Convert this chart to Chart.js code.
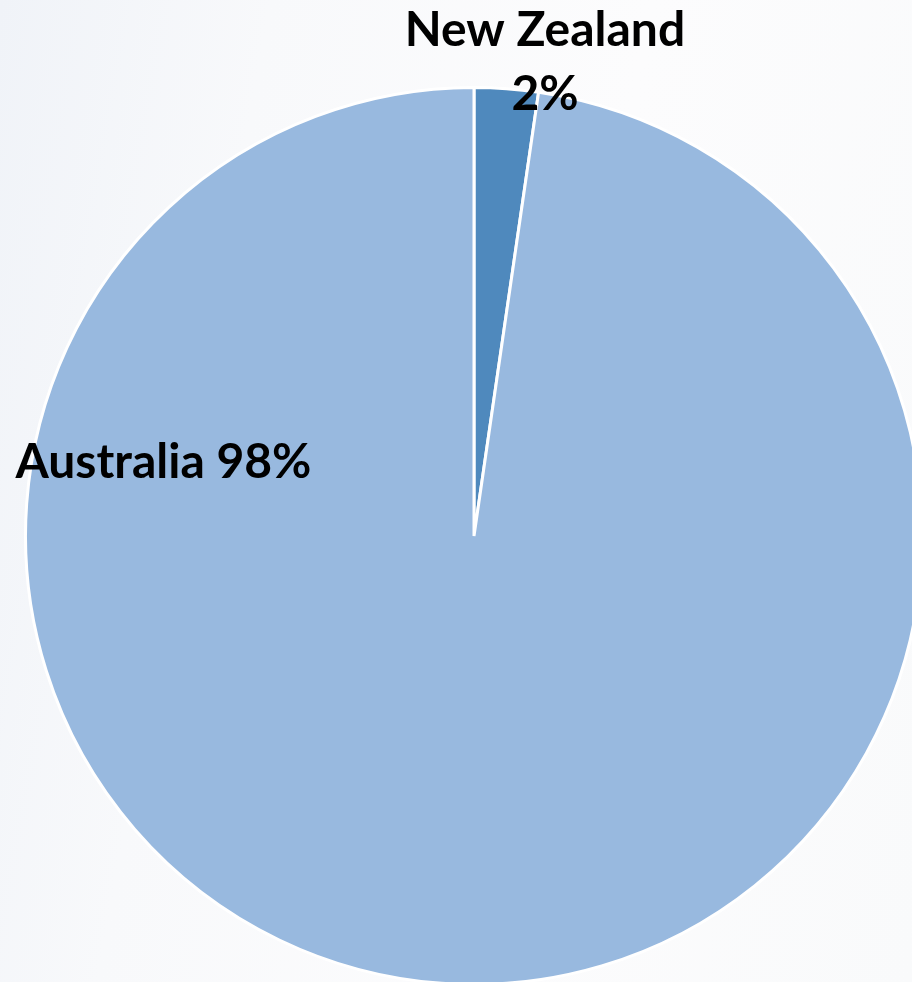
<!DOCTYPE html>
<html>
<head>
<meta charset="utf-8">
<script src="https://cdn.jsdelivr.net/npm/chart.js@4"></script>
<style>
  html, body { margin: 0; padding: 0; overflow: hidden; }
  body {
    width: 912px; height: 982px;
    background: linear-gradient(100deg, #f0f3f8 0%, #f8f9fb 25%, #fcfcfd 60%, #f9fafb 100%);
  }
  #wrap { position: absolute; left: 0; top: 0; width: 948px; height: 986px; }
</style>
</head>
<body>
<div id="wrap"><canvas id="pieChart"></canvas></div>
<script>
// Datos
const countries = ["New Zealand", "Australia"];
const shares = [2.3, 97.7];
const sliceColors = ["#4f89bd", "#98b9df"];

// Etiquetas con el porcentaje redondeado
const labelPlugin = {
    id: "sliceLabels",
    afterDatasetsDraw(chart) {
        const ctx = chart.ctx;
        const arcs = chart.getDatasetMeta(0).data;
        const total = shares.reduce((s, v) => s + v, 0);
        ctx.save();
        ctx.fillStyle = "#000";
        ctx.font = "bold 48px Lato";
        ctx.textBaseline = "middle";

        // New Zealand: encima del arco, en dos lineas
        const nz = arcs[0];
        const nzPct = Math.round(shares[0] / total * 100) + "%";
        ctx.textAlign = "center";
        ctx.fillText(countries[0], nz.x + 71, nz.y - nz.outerRadius - 57);
        ctx.fillText(nzPct, nz.x + 71, nz.y - nz.outerRadius + 7);

        // Australia: a la izquierda, una linea
        const au = arcs[1];
        const auPct = Math.round(shares[1] / total * 100) + "%";
        ctx.textAlign = "left";
        ctx.fillText(countries[1] + " " + auPct, au.x - au.outerRadius - 10, au.y - 73);
        ctx.restore();
    }
};

const ctx = document.getElementById("pieChart").getContext("2d");
const chart = new Chart(ctx, {
    type: "pie",
    data: {
        labels: countries,
        datasets: [{
            data: shares,
            backgroundColor: sliceColors,
            borderColor: "#ffffff",
            borderWidth: 3
        }]
    },
    options: {
        responsive: true,
        maintainAspectRatio: false,
        animation: false,
        layout: { padding: { top: 86, bottom: 0, left: 0, right: 0 } },
        plugins: {
            legend: { display: false },
            tooltip: { enabled: false }
        }
    },
    plugins: [labelPlugin]
});
</script>
</body>
</html>
